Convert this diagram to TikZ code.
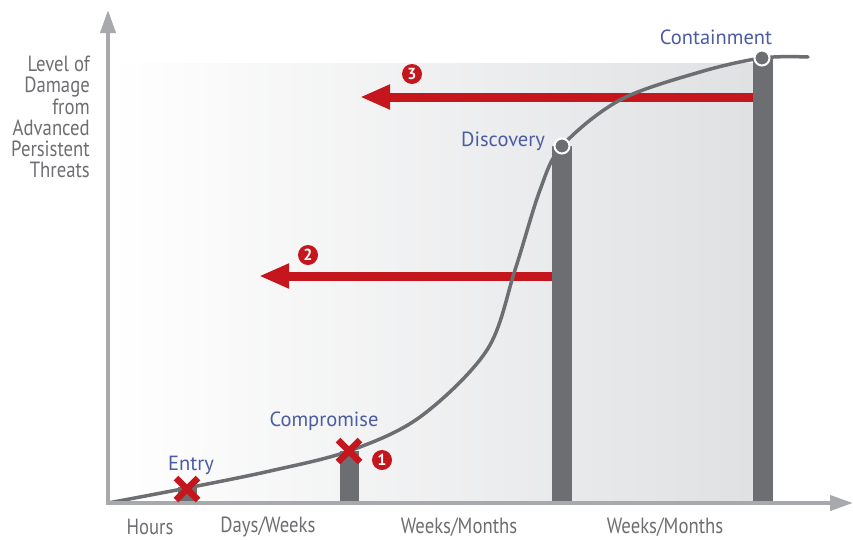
\documentclass[tikz,border=0pt]{standalone}
\usepackage{fontspec}
\setmainfont{PT Sans}
\newfontfamily\condfont[FakeStretch=0.85]{PT Sans}
\usetikzlibrary{arrows.meta}
\definecolor{lblblue}{HTML}{4B5CA3}
\definecolor{txtgray}{HTML}{6D6E71}
\definecolor{bargray}{HTML}{6D6E71}
\definecolor{axisgray}{HTML}{A7A9AC}
\definecolor{apred}{HTML}{C4161C}
\definecolor{bgend}{HTML}{DFE0E2}
\tikzset{
  phase/.style={text=lblblue, font=\fontsize{20.5}{22}\selectfont, inner sep=0pt},
  tick/.style={text=txtgray, font=\condfont\fontsize{22}{22}\selectfont, inner sep=0pt},
  bar/.style={fill=bargray, draw=none},
  axis/.style={draw=axisgray, line width=4pt, -{Triangle[length=23pt,width=15pt]}},
  redarrow/.style={draw=apred, line width=9pt, -{Triangle[length=30pt,width=23pt]}},
  numdot/.style={circle, fill=apred, text=white, inner sep=0pt, minimum size=20pt, font=\bfseries\fontsize{16}{16}\selectfont},
  xmark/.style={draw=apred, line width=6.5pt},
  milestone/.style={circle, fill=bargray, draw=white, line width=2pt, minimum size=15pt, inner sep=0pt},
}
\begin{document}
\begin{tikzpicture}[x=1pt,y=-1pt]
\useasboundingbox (0,0) rectangle (853,539);
% background gradient
\shade[left color=white, right color=bgend] (108,63) rectangle (773,503);
% bars
\fill[bar] (178,487) rectangle (197,503);
\fill[bar] (340,451) rectangle (359,503);
\fill[bar] (552,146) rectangle (572,503);
\fill[bar] (753,58) rectangle (773,503);
% coordinates
\coordinate (origin) at (108,505);
\coordinate (ytip) at (108,10);
\coordinate (xstart) at (106,503);
\coordinate (xtip) at (853,503);
\coordinate (disc) at (562,146);
\coordinate (cont) at (762,58);
\coordinate (a2start) at (552,276);
\coordinate (a2tip) at (259,276);
\coordinate (a3start) at (753,97);
\coordinate (a3tip) at (360,97);
% red arrows
\draw[redarrow] (a3start) -- (a3tip);
\draw[redarrow] (a2start) -- (a2tip);
% curve
\draw[draw=bargray, line width=3.5pt, line cap=round] plot[smooth, tension=0.55] coordinates
 {(108,503) (187,488) (270,471) (349,451) (420,417) (487,350) (515,270) (540,190) (562,146) (620,100) (700,72) (762,58) (808,57)};
% axes
\draw[axis] (origin) -- (ytip);
\draw[axis] (xstart) -- (xtip);
% milestones
\node[milestone] (discdot) at (disc) {};
\node[milestone] (contdot) at (cont) {};
% X marks
\coordinate (entryx) at (187,489);
\coordinate (compx) at (349,451);
\draw[xmark] ([shift={(-11,-11)}]entryx) -- ([shift={(11,11)}]entryx);
\draw[xmark] ([shift={(-11,11)}]entryx) -- ([shift={(11,-11)}]entryx);
\draw[xmark] ([shift={(-11,-11)}]compx) -- ([shift={(11,11)}]compx);
\draw[xmark] ([shift={(-11,11)}]compx) -- ([shift={(11,-11)}]compx);
% number badges
\node[numdot] (n1) at (382,460) {1};
\node[numdot] (n2) at (308,255) {2};
\node[numdot] (n3) at (412,74) {3};
% phase labels
\node[phase] (lcont) at (716,37) {Containment};
\node[phase] (ldisc) at (503,141) {Discovery};
\node[phase] (lcomp) at (324,421) {Compromise};
\node[phase] (lentry) at (191,465) {Entry};
% time labels
\node[tick] (t1) at (150,527) {Hours};
\node[tick] (t2) at (268,527) {Days/Weeks};
\node[tick] (t3) at (459,527) {Weeks/Months};
\node[tick] (t4) at (665,527) {Weeks/Months};
% y label
\node[tick, anchor=north east, align=right, font=\condfont\fontsize{22}{21.2}\selectfont] (ylab) at (90,56) {Level of\\Damage\\from\\Advanced\\Persistent\\Threats};
\end{tikzpicture}
\end{document}
